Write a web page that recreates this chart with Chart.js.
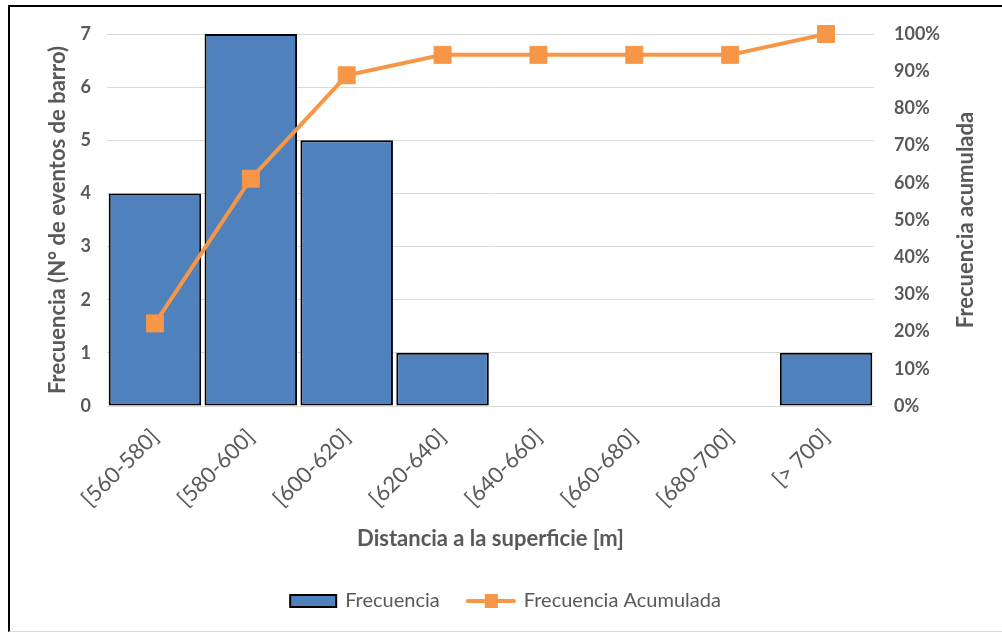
<!DOCTYPE html>
<html>
<head>
<meta charset="utf-8">
<script src="https://cdn.jsdelivr.net/npm/chart.js@4.4.1/dist/chart.umd.min.js"></script>
<style>
  body { margin: 0; background: #fff; }
  #marco {
    position: absolute; left: 8px; top: 5px; width: 994px; height: 627px;
    border-left: 2px solid #000; border-top: 2px solid #000; border-bottom: 1px solid #d9d9d9;
    box-sizing: border-box;
  }
  #wrap { position: absolute; left: 0; top: 0; width: 992px; height: 624px; }
</style>
</head>
<body>
<div id="marco"><div id="wrap"><canvas id="grafico"></canvas></div></div>
<script>
var rangos = ['[560-580]', '[580-600]', '[600-620]', '[620-640]', '[640-660]', '[660-680]', '[680-700]', '[> 700]'];
var frecuencia = [4, 7, 5, 1, 0, 0, 0, 1];
var acumulada = [22.2, 61.1, 88.9, 94.4, 94.4, 94.4, 94.4, 100];

var gris = '#595959';
var fuente = 'Lato, "Open Sans", sans-serif';

// iconos de la leyenda (56 px de ancho, el dibujo cerca del borde derecho)
function iconoBarra() {
  var c = document.createElement('canvas');
  c.width = 56; c.height = 14;
  var x = c.getContext('2d');
  x.fillStyle = '#000';
  x.fillRect(4, 0, 48, 14);
  x.fillStyle = '#4f81bd';
  x.fillRect(6, 2, 44, 10);
  return c;
}
function iconoLinea() {
  var c = document.createElement('canvas');
  c.width = 56; c.height = 16;
  var x = c.getContext('2d');
  x.strokeStyle = '#f79646';
  x.lineWidth = 4;
  x.lineCap = 'round';
  x.beginPath(); x.moveTo(4, 8); x.lineTo(50, 8); x.stroke();
  x.fillStyle = '#f79646';
  x.fillRect(21, 1, 13, 14);
  return c;
}

// titulo del eje derecho, leido de abajo hacia arriba
var tituloDerecho = {
  id: 'tituloDerecho',
  afterDraw: function (chart) {
    var s = chart.scales.y2;
    var c = chart.ctx;
    c.save();
    c.translate(s.right - 36, (s.top + s.bottom) / 2);
    c.rotate(-Math.PI / 2);
    c.font = 'bold 22px ' + fuente;
    c.fillStyle = gris;
    c.textAlign = 'center';
    c.textBaseline = 'middle';
    c.fillText('Frecuencia acumulada', 0, 0);
    c.restore();
  }
};

function anchoFijo(w) {
  return function (s) {
    s.width = w;
    s.paddingTop = 0;
    s.paddingBottom = 0;
  };
}

var ctx = document.getElementById('grafico');
var grafico = new Chart(ctx, {
  type: 'bar',
  data: {
    labels: rangos,
    datasets: [
      {
        type: 'line',
        label: 'Frecuencia Acumulada',
        data: acumulada,
        yAxisID: 'y2',
        borderColor: '#f79646',
        backgroundColor: '#f79646',
        borderWidth: 4,
        pointStyle: 'rect',
        pointRadius: 12,
        pointHoverRadius: 12,
        pointBorderWidth: 1,
        tension: 0,
        clip: false,
        order: 1
      },
      {
        label: 'Frecuencia',
        data: frecuencia,
        yAxisID: 'y',
        backgroundColor: '#4f81bd',
        borderColor: '#000',
        borderWidth: 2,
        borderSkipped: false,
        barPercentage: 0.965,
        categoryPercentage: 1,
        order: 2
      }
    ]
  },
  plugins: [tituloDerecho],
  options: {
    responsive: true,
    maintainAspectRatio: false,
    animation: false,
    layout: { padding: { top: 27, bottom: 10 } },
    plugins: {
      tooltip: { enabled: false },
      legend: {
        position: 'bottom',
        labels: {
          usePointStyle: true,
          pointStyleWidth: 44,
          color: gris,
          font: { family: fuente, size: 20 },
          padding: 30,
          generateLabels: function (chart) {
            return [
              { text: 'Frecuencia', pointStyle: iconoBarra(), fontColor: gris, datasetIndex: 1, hidden: false, lineWidth: 0 },
              { text: 'Frecuencia Acumulada', pointStyle: iconoLinea(), fontColor: gris, datasetIndex: 0, hidden: false, lineWidth: 0 }
            ];
          }
        }
      }
    },
    scales: {
      x: {
        grid: { display: false },
        border: { color: '#d9d9d9' },
        ticks: {
          color: gris,
          font: { family: fuente, size: 22 },
          maxRotation: 45,
          minRotation: 45,
          autoSkip: false,
          padding: 10
        },
        title: {
          display: true,
          text: 'Distancia a la superficie [m]',
          color: gris,
          font: { family: fuente, size: 22, weight: 'bold' },
          padding: { top: 0, bottom: 9 }
        },
        afterFit: function (s) { s.height = 155; }
      },
      y: {
        position: 'left',
        min: 0,
        max: 7,
        ticks: {
          stepSize: 1,
          color: gris,
          font: { family: fuente, size: 18, weight: 'bold' },
          padding: 16
        },
        grid: { color: '#d9d9d9', lineWidth: 1, drawTicks: false },
        border: { display: false },
        title: {
          display: true,
          text: 'Frecuencia (N° de eventos de barro)',
          color: gris,
          font: { family: fuente, size: 22, weight: 'bold' },
          padding: { top: 35, bottom: 0 }
        },
        afterFit: anchoFijo(97)
      },
      y2: {
        position: 'right',
        min: 0,
        max: 100,
        ticks: {
          stepSize: 10,
          color: gris,
          font: { family: fuente, size: 18, weight: 'bold' },
          padding: 20,
          callback: function (v) { return v + '%'; }
        },
        grid: { display: false, drawTicks: false },
        border: { display: false },
        afterFit: anchoFijo(128)
      }
    }
  }
});
</script>
</body>
</html>
